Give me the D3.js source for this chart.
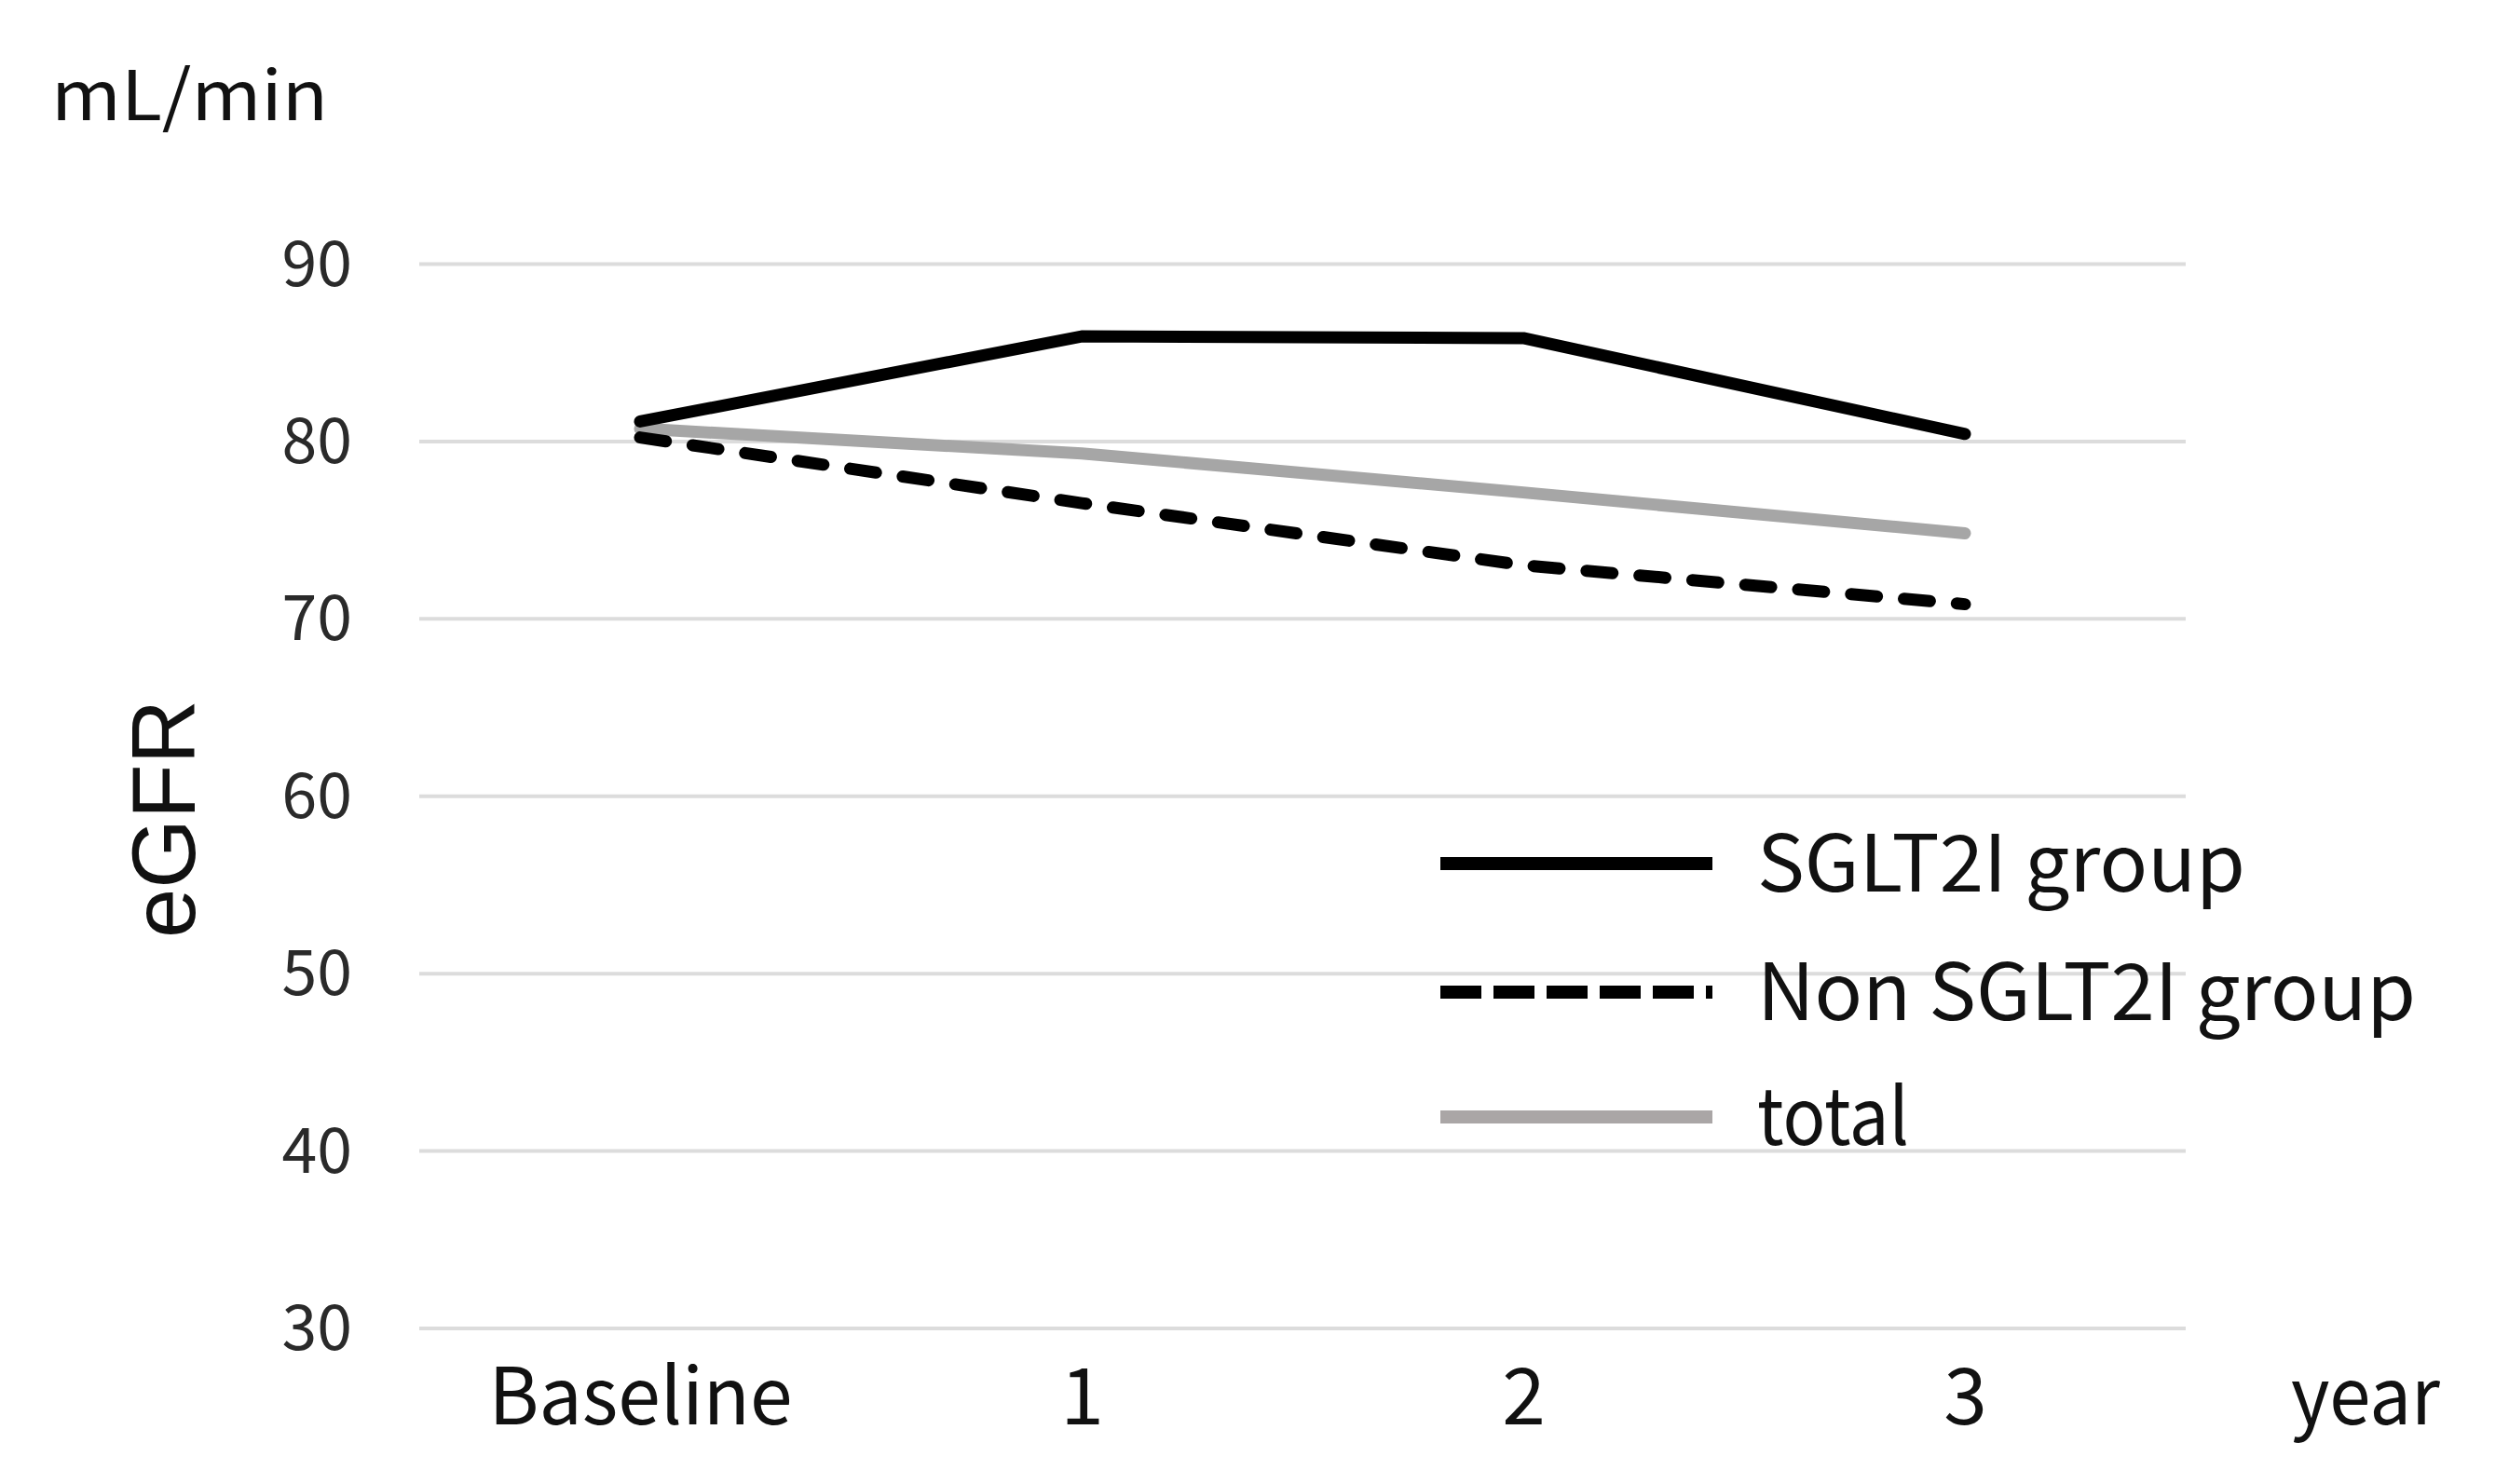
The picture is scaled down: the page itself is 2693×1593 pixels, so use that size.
<!DOCTYPE html>
<html>
<head>
<meta charset="utf-8">
<script src="https://cdn.jsdelivr.net/npm/d3@7"></script>
<style>
html,body{margin:0;padding:0;background:#fff;}
svg{display:block;}
</style>
</head>
<body>
<script>
const categories = ["Baseline", "1", "2", "3"];
const yTicks = [30, 40, 50, 60, 70, 80, 90];
const sglt2i = [81.1, 85.9, 85.8, 80.4];
const nonSglt2i = [80.2, 76.5, 73.0, 70.8];
const total = [80.7, 79.3, 77.1, 74.8];
const seriesNames = ["SGLT2I group", "Non SGLT2I group", "total"];

const W = 2693, H = 1593;
const svg = d3.select("body").append("svg").attr("width", W).attr("height", H);
const font = "'Noto Sans CJK JP', 'Noto Sans', sans-serif";

const x = d3.scalePoint().domain(categories).range([450, 2346]).padding(0.5);
const y = d3.scaleLinear().domain([30, 90]).range([1425.5, 283]);

// gridlines
const yAxis = d3.axisLeft(y).tickValues(yTicks).tickSize(-(2346 - 450)).tickPadding(72);
const gy = svg.append("g").attr("transform", "translate(450,0)").call(yAxis);
gy.select(".domain").remove();
gy.selectAll(".tick line").attr("stroke", "#dcdcdc").attr("stroke-width", 4);
gy.selectAll(".tick text").attr("font-family", font).attr("font-size", 68)
  .attr("fill", "#2a2a2a").attr("dy", "0.34em");

// x labels
const xAxis = d3.axisBottom(x).tickSize(0).tickPadding(0);
const gx = svg.append("g").attr("transform", "translate(0,1529)").call(xAxis);
gx.select(".domain").remove();
gx.selectAll(".tick text").attr("font-family", font).attr("font-size", 84)
  .attr("fill", "#111").attr("dy", 0)
  .attr("textLength", d => d === "Baseline" ? 326 : null)
  .attr("lengthAdjust", "spacingAndGlyphs");

// data lines
const line = d3.line().x((d, i) => x(categories[i])).y(d => y(d));
const styles = [
  {data: sglt2i, stroke: "#000", dash: null, cap: "round"},
  {data: nonSglt2i, stroke: "#000", dash: "28,29", cap: "round"},
  {data: total, stroke: "#a6a6a6", dash: null, cap: "round"}
];
[styles[2], styles[1], styles[0]].forEach(s => {
  svg.append("path").datum(s.data).attr("d", line)
    .attr("fill", "none").attr("stroke", s.stroke).attr("stroke-width", 13)
    .attr("stroke-linecap", s.cap).attr("stroke-linejoin", "round")
    .attr("stroke-dasharray", s.dash);
});

// legend
const legY = [927, 1065, 1199];
const legText = [524, 707, 163];
const lg = svg.append("g");
seriesNames.forEach((name, i) => {
  const s = styles[i];
  lg.append("line").attr("x1", 1546).attr("x2", 1838).attr("y1", legY[i]).attr("y2", legY[i])
    .attr("stroke", i === 2 ? "#aaa6a6" : s.stroke).attr("stroke-width", 14)
    .attr("stroke-dasharray", i === 1 ? "44,13" : null);
  lg.append("text").attr("x", 1886).attr("y", legY[i] + 30)
    .attr("font-family", font).attr("font-size", 84).attr("fill", "#111")
    .attr("textLength", legText[i]).attr("lengthAdjust", "spacingAndGlyphs")
    .text(name);
});

// axis titles
svg.append("text").attr("x", 55).attr("y", 129).attr("font-family", font)
  .attr("font-size", 74).attr("fill", "#111")
  .attr("textLength", 297).attr("lengthAdjust", "spacingAndGlyphs").text("mL/min");
svg.append("text").attr("transform", "translate(209,879) rotate(-90)")
  .attr("text-anchor", "middle").attr("font-family", "'Liberation Sans', Arial, sans-serif")
  .attr("font-size", 96).attr("fill", "#111").text("eGFR");
svg.append("text").attr("x", 2459).attr("y", 1529).attr("font-family", font)
  .attr("font-size", 84).attr("fill", "#111")
  .attr("textLength", 160).attr("lengthAdjust", "spacingAndGlyphs").text("year");
</script>
</body>
</html>
